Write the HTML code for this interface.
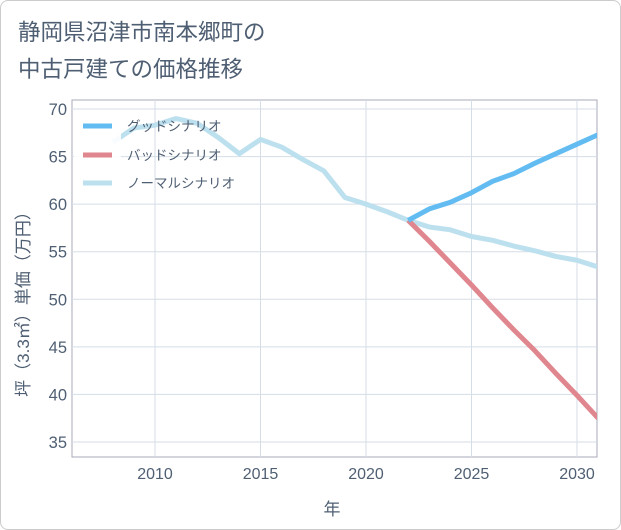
<!DOCTYPE html>
<html><head><meta charset="utf-8"><style>
body{margin:0;background:#fff;font-family:"Liberation Sans","Noto Sans CJK JP",sans-serif;}
.wrap{position:relative;width:619px;height:528px;border:1px solid #ccc;border-radius:8px;overflow:hidden;}
</style></head><body>
<div class="wrap">
<svg id="c" width="621" height="530" style="position:absolute;left:-1px;top:-1px">
<text x="18" y="40" font-size="22.5" fill="#4f5f73">静岡県沼津市南本郷町の</text>
<text x="18" y="77" font-size="22.5" fill="#4f5f73">中古戸建ての価格推移</text>
<g id="grid"></g><g id="lines"></g><g id="legend"></g>
<text x="332" y="515" font-size="17" fill="#4f5f73" text-anchor="middle">年</text>
<text transform="translate(29,300) rotate(-90)" font-size="17" fill="#4f5f73" text-anchor="middle">坪（3.3㎡）単価（万円）</text>
</svg></div>
<script>
const xTicks=[2010,2015,2020,2025,2030];
const yTicks=[35,40,45,50,55,60,65,70];
const normalYears=[2008,2009,2010,2011,2012,2013,2014,2015,2016,2017,2018,2019,2020,2021,2022,2023,2024,2025,2026,2027,2028,2029,2030,2031];
const normalVals=[66.5,68,68.3,69,68.5,67,65.3,66.8,66,64.7,63.5,60.7,60,59.2,58.3,57.6,57.3,56.6,56.2,55.6,55.1,54.5,54.1,53.4];
const scenYears=[2022,2023,2024,2025,2026,2027,2028,2029,2030,2031];
const goodVals=[58.3,59.5,60.2,61.2,62.4,63.2,64.3,65.3,66.3,67.3];
const badVals=[58.3,56.1,53.8,51.5,49.1,46.8,44.6,42.2,39.9,37.5];
const L=72,R=597,T=100,B=457;
const xs=y=>155+(y-2010)*21.1;
const ys=v=>109+(70-v)*9.514;
const NS="http://www.w3.org/2000/svg";
function mk(t,a,p){const e=document.createElementNS(NS,t);for(const k in a)e.setAttribute(k,a[k]);p.appendChild(e);return e;}
const g=document.getElementById('grid');
const bg=mk('rect',{x:L,y:T,width:R-L,height:B-T,fill:'#fff',stroke:'#aab',"stroke-width":1},g);


xTicks.forEach(t=>{const l=mk('line',{x1:xs(t),x2:xs(t),y1:T,y2:B,stroke:'#d5dde6'},g);


const tx=mk('text',{x:xs(t),y:B+22,"font-size":16,fill:'#4f5f73',"text-anchor":'middle'},g);tx.textContent=t;

});
yTicks.forEach(t=>{const l=mk('line',{x1:L,x2:R,y1:ys(t),y2:ys(t),stroke:'#d5dde6'},g);


const tx=mk('text',{x:L-5,y:ys(t)+6,"font-size":16.5,fill:'#4f5f73',"text-anchor":'end'},g);tx.textContent=t;

});
const ln=document.getElementById('lines');
function path(yrs,vals,col,name){const p=mk('polyline',{points:yrs.map((y,i)=>xs(y)+','+ys(vals[i])).join(' '),fill:'none',stroke:col,"stroke-width":5,"stroke-linejoin":'round'},ln);

}
const cp=mk('clipPath',{id:'cp'},document.getElementById('c'));mk('rect',{x:L,y:T,width:R-L,height:B-T},cp);
ln.setAttribute('clip-path','url(#cp)');
path(normalYears,normalVals,'#bde0ef','normal-scenario-line');
path(scenYears,badVals,'#e0868e','bad-scenario-line');
path(scenYears,goodVals,'#62bcf2','good-scenario-line');
const lg=document.getElementById('legend');
const lb=mk('rect',{x:74,y:110,width:47,height:90,fill:'#fff',"fill-opacity":0.9},lg);


[['グッドシナリオ','#62bcf2',126],['バッドシナリオ','#e0868e',155],['ノーマルシナリオ','#bde0ef',183]].forEach(([n,c,y])=>{
const s=mk('line',{x1:83,x2:112,y1:y,y2:y,stroke:c,"stroke-width":5},lg);


const t=mk('text',{x:127,y:y+5,"font-size":13.5,fill:'#4f5f73'},lg);t.textContent=n;

});
</script></body></html>
